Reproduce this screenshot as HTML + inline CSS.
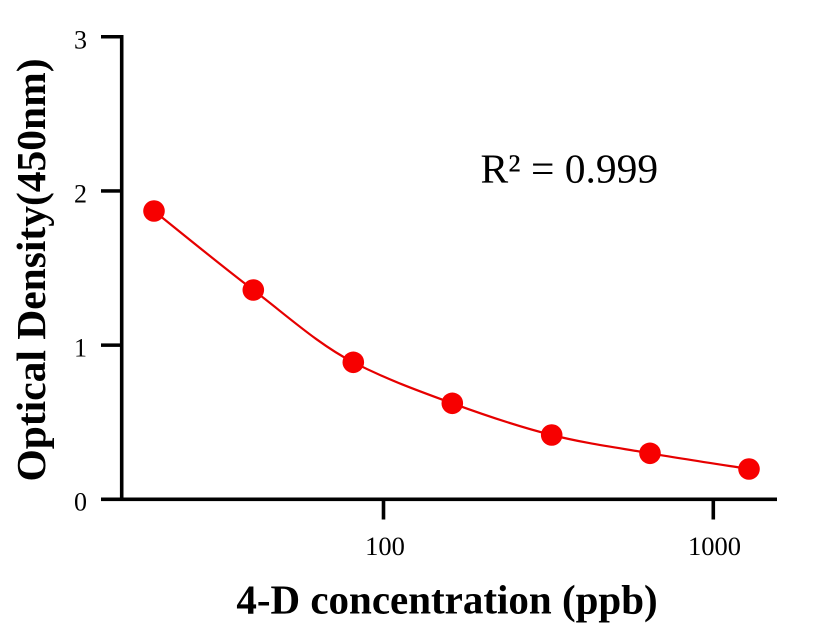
<!DOCTYPE html>
<html>
<head>
<meta charset="utf-8">
<style>
  html, body { margin: 0; padding: 0; background: #ffffff; }
  svg { display: block; }
  text { font-family: "Liberation Serif", "Times New Roman", serif; fill: #000; }
</style>
</head>
<body>
<svg width="816" height="640" viewBox="0 0 816 640" xmlns="http://www.w3.org/2000/svg">
  <rect width="816" height="640" fill="#ffffff"/>

  <!-- Y axis -->
  <rect x="119.9" y="35" width="3.6" height="466" fill="#000"/>
  <!-- Y ticks -->
  <rect x="101" y="35" width="22" height="3.5" fill="#000"/>
  <rect x="101" y="189.2" width="22" height="3.5" fill="#000"/>
  <rect x="101" y="343.4" width="22" height="3.5" fill="#000"/>
  <!-- X axis (includes 0 tick) -->
  <rect x="101" y="497.5" width="676" height="3.6" fill="#000"/>
  <!-- X ticks -->
  <rect x="381.7" y="499" width="3.6" height="20.5" fill="#000"/>
  <rect x="711.5" y="499" width="3.6" height="20.5" fill="#000"/>

  <!-- Y tick labels -->
  <text x="87" y="48.3" font-size="26" text-anchor="end">3</text>
  <text x="87" y="202.5" font-size="26" text-anchor="end">2</text>
  <text x="87" y="356.7" font-size="26" text-anchor="end">1</text>
  <text x="87" y="510.5" font-size="26" text-anchor="end">0</text>

  <!-- X tick labels -->
  <text x="385" y="555" font-size="26.5" text-anchor="middle">100</text>
  <text x="714.5" y="555" font-size="26.5" text-anchor="middle">1000</text>

  <!-- Axis titles -->
  <text x="447" y="613.3" font-size="41" font-weight="bold" text-anchor="middle">4-D concentration (ppb)</text>
  <text transform="translate(45,270) rotate(-90)" font-size="41.5" font-weight="bold" text-anchor="middle">Optical Density(450nm)</text>

  <!-- R squared -->
  <text x="480.5" y="182.5" font-size="41.5">R² = 0.999</text>

  <!-- Fitted curve -->
  <path d="M154,211
           C170.55,224.17 220.08,264.78 253.3,290
           C286.52,315.22 318.5,344.5 353.3,362.3
           C388,380 419.23,391.18 452.3,403.3
           C485.37,415.42 518.75,426.67 551.7,435
           C584.65,443.33 617.12,447.63 650,453.3
           C682.88,458.97 732.5,466.38 749,469"
        fill="none" stroke="#e60000" stroke-width="2.2"/>

  <!-- Data points -->
  <g fill="#f70000">
    <circle cx="154" cy="211" r="10.8"/>
    <circle cx="253.3" cy="290" r="10.8"/>
    <circle cx="353.3" cy="362.3" r="10.8"/>
    <circle cx="452.3" cy="403.3" r="10.8"/>
    <circle cx="551.7" cy="435" r="10.8"/>
    <circle cx="650" cy="453.3" r="10.8"/>
    <circle cx="749" cy="469" r="10.8"/>
  </g>
</svg>
</body>
</html>
